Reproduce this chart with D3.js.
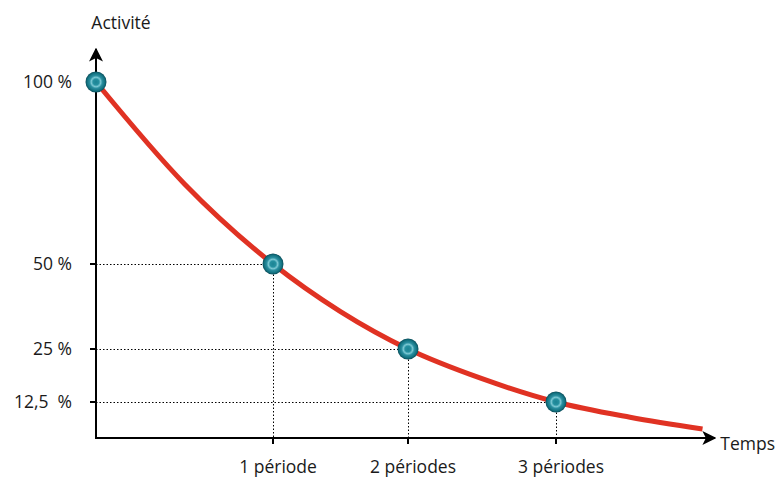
<!DOCTYPE html>
<html><head><meta charset="utf-8">
<script src="https://cdn.jsdelivr.net/npm/d3@7"></script>
<style>body{margin:0;background:#fff}svg{display:block}text{font-family:"Open Sans",sans-serif;fill:#1a1a1a;white-space:pre}</style>
</head><body><svg id="c" width="778" height="477"></svg>
<script>
// Data
const periods = [0, 1, 2, 3];
const activity = [100, 50, 25, 12.5];
const periodLabels = ["", "1 période", "2 périodes", "3 périodes"];
const yTickValues = [100, 50, 25, 12.5];
const yTickLabels = ["100 %", "50 %", "25 %", "12,5  %"];
const curvePeriods = [0, 0.5, 1, 1.5, 2, 2.5, 3, 3.5, 3.99];
const curveActivity = [100, 72, 50, 36, 25, 18, 12.5, 7.2, 3.1];

const svg = d3.select("#c");
const x = d3.scaleLinear().domain([0, 1, 2, 3, 4]).range([96, 273, 408, 556, 704]);
const y = d3.scaleLinear().domain([0, 12.5, 25, 50, 100]).range([438, 402, 349, 264, 82]);

const defs = svg.append("defs");
const g = defs.append("radialGradient").attr("id", "dot");
[[0, "#1b8393"], [0.28, "#2590a0"], [0.45, "#7cc9d4"], [0.6, "#2a8fa0"], [0.85, "#12717f"], [1, "#0a4b58"]]
  .forEach(([o, c]) => g.append("stop").attr("offset", o).attr("stop-color", c));
defs.append("marker").attr("id", "arr").attr("viewBox", "0 0 10 10").attr("refX", 9).attr("refY", 5)
  .attr("markerWidth", 14).attr("markerHeight", 14).attr("markerUnits", "userSpaceOnUse").attr("orient", "auto")
  .append("path").attr("d", "M0,0 L10,5 L0,10 L2.5,5 Z").attr("fill", "#000");

// dotted guides
periods.slice(1).forEach((p, i) => {
  const v = activity[i + 1];
  svg.append("line").attr("x1", x(0)).attr("x2", x(p)).attr("y1", y(v) + 0.5).attr("y2", y(v) + 0.5)
    .attr("stroke", "#000").attr("stroke-width", 1).attr("stroke-dasharray", "1.5,2");
  svg.append("line").attr("x1", x(p) + 0.5).attr("x2", x(p) + 0.5).attr("y1", y(v)).attr("y2", y(0))
    .attr("stroke", "#000").attr("stroke-width", 1).attr("stroke-dasharray", "1.5,2");
});

// axes
svg.append("line").attr("x1", x(0)).attr("y1", y(0)).attr("x2", x(0)).attr("y2", 49)
  .attr("stroke", "#000").attr("stroke-width", 2).attr("marker-end", "url(#arr)");
svg.append("line").attr("x1", x(0) - 1).attr("y1", y(0)).attr("x2", 715).attr("y2", y(0))
  .attr("stroke", "#000").attr("stroke-width", 2).attr("marker-end", "url(#arr)");

// ticks
yTickValues.slice(1).forEach(v => svg.append("line").attr("x1", x(0) - 6).attr("x2", x(0)).attr("y1", y(v)).attr("y2", y(v)).attr("stroke", "#000").attr("stroke-width", 2));
periods.slice(1).forEach(p => svg.append("line").attr("x1", x(p)).attr("x2", x(p)).attr("y1", y(0)).attr("y2", y(0) + 6).attr("stroke", "#000").attr("stroke-width", 2));

// labels
const fs = 17.5;
yTickValues.forEach((v, i) => svg.append("text").attr("x", 72).attr("y", y(v)).attr("dy", "0.35em")
  .attr("text-anchor", "end").attr("font-size", fs).text(yTickLabels[i]));
periods.slice(1).forEach((p, i) => svg.append("text").attr("x", x(p) + 5).attr("y", 473)
  .attr("text-anchor", "middle").attr("font-size", fs).text(periodLabels[i + 1]));
svg.append("text").attr("x", 121).attr("y", 29).attr("text-anchor", "middle").attr("font-size", fs).text("Activité");
svg.append("text").attr("x", 775).attr("y", 450).attr("text-anchor", "end").attr("font-size", fs).text("Temps");

// curve
const line = d3.line().x((d, i) => x(curvePeriods[i])).y(d => y(d)).curve(d3.curveMonotoneX);
svg.append("path").attr("d", line(curveActivity)).attr("fill", "none").attr("stroke", "#e03223").attr("stroke-width", 5);

// points
svg.selectAll("circle.pt").data(activity).join("circle").attr("class", "pt")
  .attr("cx", (d, i) => x(periods[i])).attr("cy", d => y(d)).attr("r", 10.5).attr("fill", "url(#dot)");
</script></body></html>
